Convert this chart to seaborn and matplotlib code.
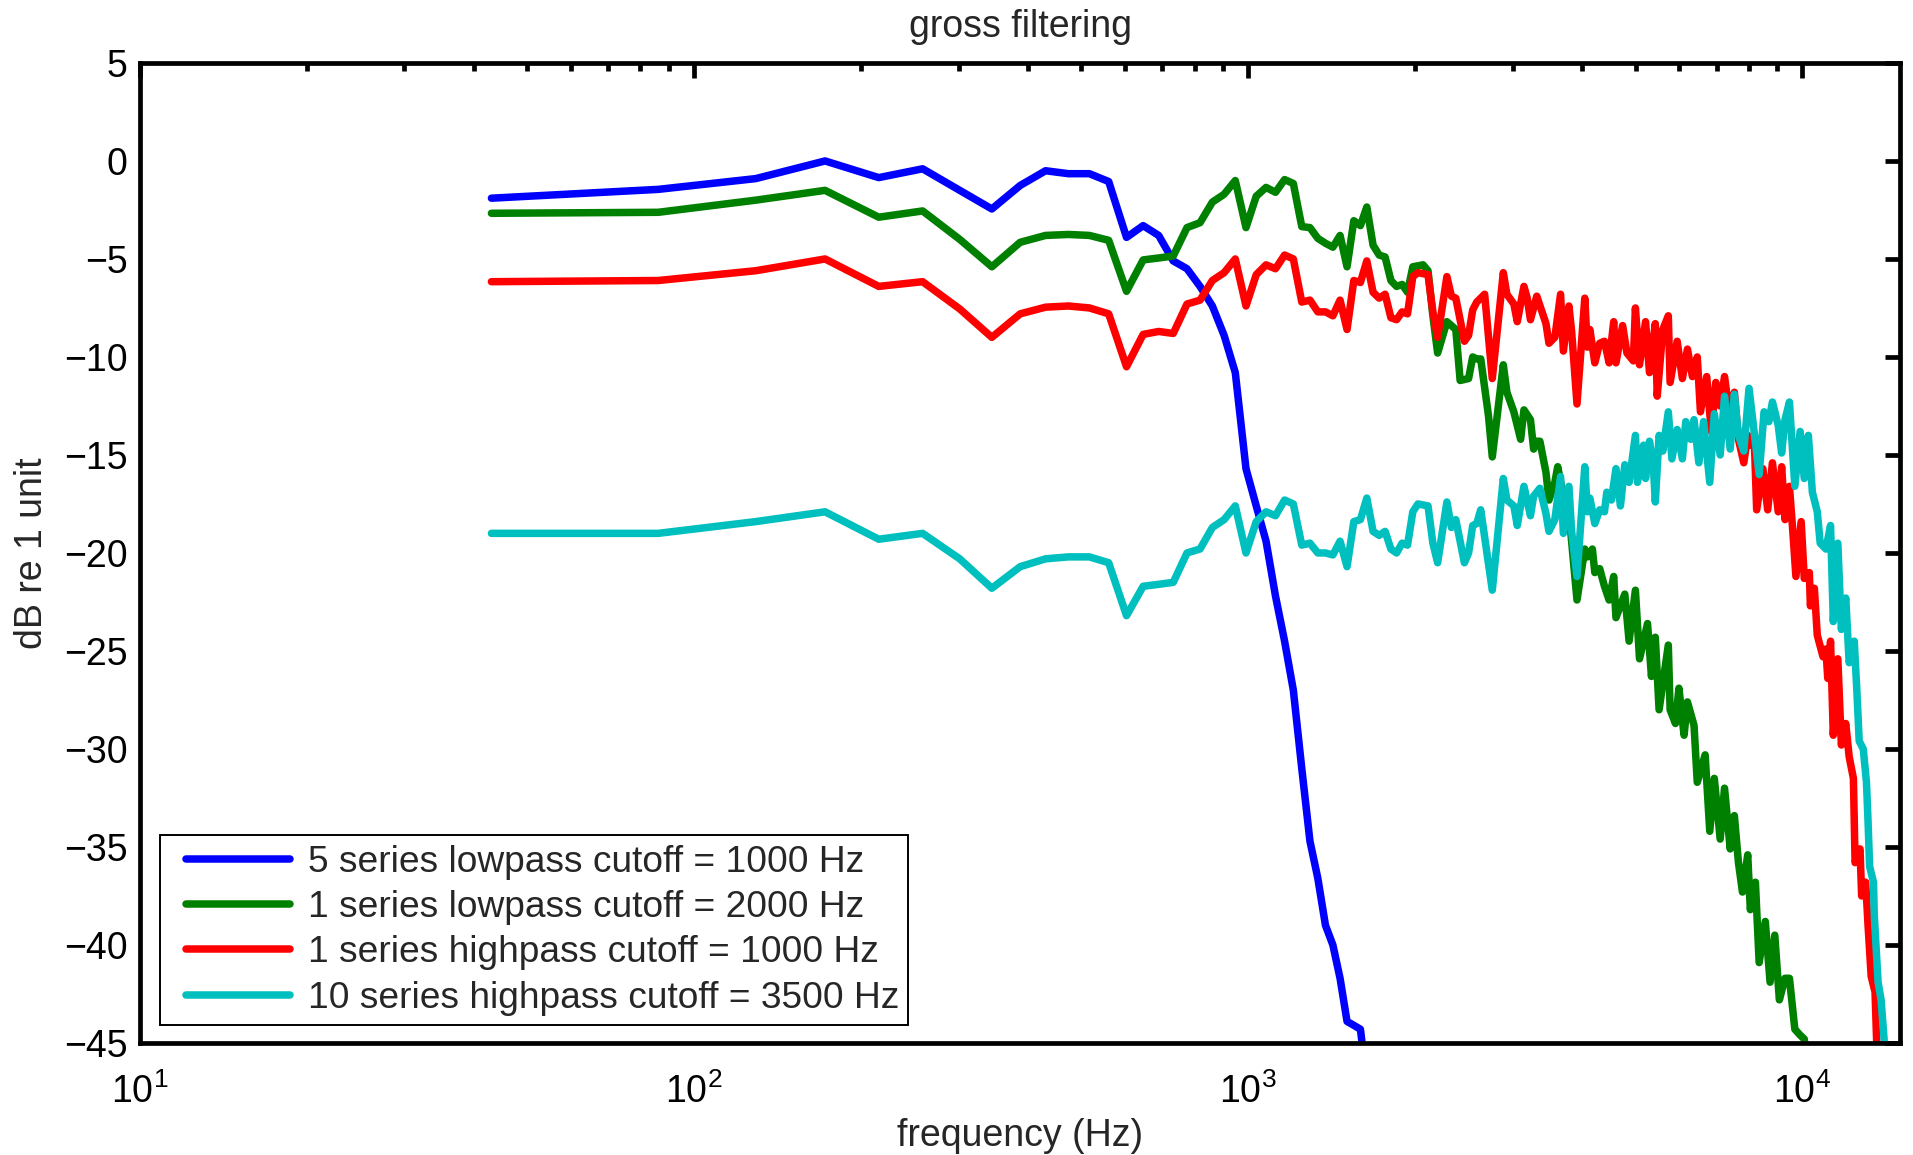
import numpy as np
import pandas as pd
import matplotlib
matplotlib.use("Agg")
import matplotlib.pyplot as plt
from matplotlib.ticker import LogLocator, NullFormatter
from matplotlib.legend_handler import HandlerLine2D
import seaborn as sns

# FFT resolution used for the spectra (44.1 kHz, 1024-point frames)
BIN_HZ = 44100 / 1024

series_labels = [
    "5 series lowpass cutoff = 1000 Hz",
    "1 series lowpass cutoff = 2000 Hz",
    "1 series highpass cutoff = 1000 Hz",
    "10 series highpass cutoff = 3500 Hz",
]
series_colors = ["#0000ff", "#008000", "#ff0000", "#00bfbf"]

# Spectral bin indices and levels (dB re 1 unit) for each filter chain
blue_bins = list(range(1, 39))
blue_db = [-1.9, -1.45, -0.9, 0.0, -0.85, -0.4, -1.5, -2.45, -1.25, -0.5,
           -0.65, -0.65, -1.05, -3.9, -3.3, -3.8, -5.1, -5.5, -6.4, -7.4,
           -8.9, -10.8, -15.7, -17.6, -19.4, -22.2, -24.5, -27.0, -31.0, -34.7,
           -36.6, -39.0, -40.0, -41.7, -43.9, -44.1, -44.3, -47.0]

green_bins = list(range(1, 46)) + [
    46, 48, 49, 50, 51, 53, 54, 55, 56, 58, 59, 60, 61, 63, 64, 67, 68, 70, 72, 73,
    75, 76, 77, 78, 80, 81, 83, 84, 86, 88, 91, 94, 95, 97, 98, 100, 102, 104, 106, 107,
    111, 113, 116, 118, 122, 124, 126, 128, 133, 134, 137, 139, 142, 144, 148, 150, 155, 158, 161, 165,
    168, 172, 175, 178, 181, 185, 187, 191, 194, 199, 203, 207, 211, 216, 220, 225, 230, 234, 238]
green_db = [
    -2.67, -2.62, -2.0, -1.5, -2.87, -2.55, -4.0, -5.4, -4.15, -3.8,
    -3.75, -3.8, -4.05, -6.65, -5.05, -4.95, -4.85, -3.4, -3.15, -2.1,
    -1.7, -1.0, -3.4, -1.8, -1.35, -1.6, -0.95, -1.15, -3.35, -3.4,
    -3.95, -4.2, -4.4, -3.8, -5.4, -3.05, -3.3, -2.35, -4.3, -4.8,
    -4.9, -6.1, -6.4, -6.3, -6.7,
    -5.4, -5.3, -5.6, -7.9, -9.8, -8.2, -8.4, -8.6, -11.2, -11.1,
    -10.0, -10.1, -10.1, -13.0, -15.1, -10.4, -11.8, -12.8, -14.2, -12.7,
    -13.2, -14.7, -14.3, -14.3, -15.9, -17.3, -16.4, -15.6, -17.1, -17.9,
    -22.4, -19.8, -20.2, -19.8, -21.0, -20.8, -21.7, -22.4, -21.2, -23.3,
    -22.1, -24.5, -21.9, -25.4, -23.6, -26.3, -24.3, -28.0, -24.7, -28.0,
    -28.7, -26.9, -29.3, -27.6, -28.8, -31.7, -30.3, -34.2, -31.5, -34.6,
    -32.0, -35.1, -33.4, -35.8, -37.3, -35.4, -38.2, -36.8, -40.9, -38.8,
    -41.9, -39.5, -42.8, -41.7, -41.7, -44.3, -44.6, -44.8, -47.0]

red_bins = list(range(1, 46)) + [
    46, 47, 49, 50, 51, 53, 54, 55, 57, 58, 59, 60, 62, 64, 67, 68, 70, 71, 73, 74,
    75, 77, 80, 81, 83, 85, 86, 88, 89, 91, 94, 95, 96, 98, 100, 102, 104, 106, 107, 110,
    112, 115, 116, 118, 121, 123, 126, 127, 130, 133, 134, 138, 141, 144, 147, 150, 152, 156, 159, 162,
    165, 168, 172, 175, 178, 182, 185, 187, 190, 192, 197, 201, 205, 210, 213, 216, 220, 223, 226, 231,
    234, 239, 240, 244, 247, 253, 256, 258, 261, 264, 269, 273, 278, 282, 287, 289, 295, 297, 302, 305,
    309, 314, 316, 320]
red_db = [
    -6.16, -6.1, -5.6, -5.0, -6.4, -6.16, -7.55, -9.0, -7.8, -7.46,
    -7.4, -7.5, -7.8, -10.5, -8.85, -8.7, -8.8, -7.3, -7.1, -6.1,
    -5.7, -5.0, -7.4, -5.8, -5.3, -5.5, -4.8, -5.0, -7.2, -7.1,
    -7.7, -7.7, -7.9, -7.1, -8.6, -6.1, -6.2, -5.1, -6.7, -7.0,
    -6.8, -8.0, -8.1, -7.7, -7.8,
    -5.9, -5.7, -5.8, -7.7, -9.0, -5.9, -6.9, -7.0, -9.2, -8.9,
    -7.6, -7.2, -6.8, -11.1, -5.7, -6.8, -7.3, -8.2, -6.4, -7.0,
    -8.1, -6.9, -8.3, -9.3, -9.0, -6.8, -9.7, -7.4, -8.7, -12.4,
    -7.0, -9.5, -8.6, -10.3, -9.3, -9.2, -10.3, -8.2, -10.3, -8.4,
    -9.8, -10.2, -7.5, -10.4, -8.2, -10.8, -8.3, -12.0, -8.6, -7.9,
    -11.3, -9.2, -11.1, -9.6, -11.0, -10.0, -12.8, -11.0, -13.8, -11.3,
    -12.5, -11.0, -13.2, -11.8, -14.2, -15.4, -14.0, -14.5, -14.0, -17.8,
    -15.7, -17.8, -15.4, -17.9, -15.6, -18.3, -16.6, -18.8, -21.2, -18.4,
    -21.3, -21.0, -22.7, -21.8, -24.2, -25.3, -24.9, -26.4, -24.5, -29.3,
    -25.4, -29.8, -28.7, -30.4, -31.5, -35.8, -35.1, -37.5, -36.8, -39.0,
    -41.6, -42.4, -44.8, -48.0]

cyan_bins = list(range(1, 46)) + [
    46, 47, 49, 50, 51, 53, 54, 55, 57, 58, 59, 60, 61, 64, 67, 68, 70, 71, 73, 75,
    76, 78, 80, 81, 83, 85, 86, 88, 89, 91, 94, 95, 96, 98, 100, 102, 103, 105, 107, 109,
    111, 113, 116, 117, 120, 121, 123, 125, 126, 128, 130, 133, 135, 138, 141, 143, 146, 148, 151, 154,
    158, 161, 165, 168, 172, 175, 178, 182, 186, 190, 194, 198, 202, 205, 210, 213, 216, 220, 225, 230,
    234, 238, 242, 247, 250, 256, 261, 264, 269, 273, 278, 282, 288, 291, 294, 299, 303, 305, 307, 312,
    313, 318, 322, 326, 330]
cyan_db = [
    -19.0, -19.0, -18.4, -17.9, -19.3, -19.0, -20.3, -21.8, -20.7, -20.3,
    -20.2, -20.2, -20.5, -23.2, -21.7, -21.6, -21.5, -20.0, -19.8, -18.7,
    -18.3, -17.6, -20.0, -18.4, -17.9, -18.1, -17.3, -17.5, -19.6, -19.5,
    -20.0, -20.0, -20.1, -19.4, -20.7, -18.4, -18.3, -17.2, -18.9, -19.1,
    -18.9, -19.8, -20.0, -19.5, -19.6,
    -17.9, -17.5, -17.6, -19.5, -20.5, -17.4, -18.7, -18.3, -20.5, -20.0,
    -18.6, -18.5, -17.8, -21.9, -16.2, -17.3, -17.6, -18.6, -16.6, -18.1,
    -17.1, -16.7, -18.0, -18.9, -18.3, -16.1, -19.0, -16.6, -18.9, -21.2,
    -15.6, -17.9, -17.2, -18.5, -17.8, -17.9, -16.9, -17.3, -15.7, -17.6,
    -15.5, -16.4, -14.0, -16.4, -14.5, -16.2, -14.3, -15.6, -17.4, -14.0,
    -14.8, -12.8, -15.2, -13.7, -15.2, -13.3, -14.2, -13.2, -15.4, -13.3,
    -16.4, -12.9, -15.0, -12.0, -14.7, -11.9, -14.0, -14.8, -11.6, -13.8,
    -16.0, -12.8, -13.3, -12.3, -13.5, -14.9, -13.2, -12.3, -16.6, -13.8,
    -16.2, -14.0, -16.9, -17.9, -19.5, -19.8, -18.6, -23.5, -19.5, -23.9,
    -22.3, -25.6, -24.5, -26.9, -29.6, -30.0, -31.7, -33.7, -36.0, -36.8,
    -38.5, -41.9, -42.8, -44.8, -48.0]

y_ticks = [-45, -40, -35, -30, -25, -20, -15, -10, -5, 0, 5]

FONT_SIZE = 27
LEGEND_FONT_SIZE = 26.7
LINE_WIDTH = 5.4
AXIS_WIDTH = 3.4


class InsetLineHandler(HandlerLine2D):
    """Legend line sample that starts a little in from the frame edge."""

    def __init__(self, inset_px, **kw):
        super().__init__(**kw)
        self.inset_px = inset_px

    def create_artists(self, legend, orig_handle, xdescent, ydescent,
                       width, height, fontsize, trans):
        artists = super().create_artists(legend, orig_handle, xdescent, ydescent,
                                         width, height, fontsize, trans)
        for art in artists:
            xd = np.asarray(art.get_xdata(), dtype=float)
            if xd.size >= 2:
                xd = xd.copy()
                xd[0] += self.inset_px
                art.set_xdata(xd)
        return artists


sns.set_style("white")
plt.rcParams["font.family"] = ["Liberation Sans", "DejaVu Sans"]
plt.rcParams["mathtext.default"] = "regular"

fig = plt.figure(figsize=(19.13, 11.55), dpi=100)
ax = fig.add_axes([0.0732, 0.097, 0.92, 0.8485])

all_series = [
    (blue_bins, blue_db),
    (green_bins, green_db),
    (red_bins, red_db),
    (cyan_bins, cyan_db),
]
for (bins, db), label, color in zip(all_series, series_labels, series_colors):
    df = pd.DataFrame({"frequency": np.asarray(bins) * BIN_HZ, "level": db})
    sns.lineplot(data=df, x="frequency", y="level", ax=ax, color=color,
                 linewidth=LINE_WIDTH, label=label, estimator=None, sort=False)

ax.set_xscale("log")
ax.set_xlim(10, 15000)
ax.set_ylim(-45, 5)
ax.xaxis.set_major_locator(LogLocator(base=10, numticks=10))
ax.xaxis.set_minor_locator(LogLocator(base=10, subs=np.arange(2, 10), numticks=40))
ax.xaxis.set_minor_formatter(NullFormatter())
ax.set_yticks(y_ticks)

ax.tick_params(which="both", direction="in", top=True, right=True,
               width=AXIS_WIDTH, color="black", labelcolor="black")
ax.tick_params(which="major", length=11)
ax.tick_params(which="minor", length=5.5)
ax.tick_params(axis="x", labelsize=FONT_SIZE, pad=22)
ax.tick_params(axis="y", labelsize=FONT_SIZE, pad=9)

for spine in ax.spines.values():
    spine.set_linewidth(AXIS_WIDTH)
    spine.set_color("black")

ax.set_xlabel("frequency (Hz)", fontsize=FONT_SIZE, labelpad=5)
ax.set_ylabel("dB re 1 unit", fontsize=FONT_SIZE, labelpad=10)
ax.set_title("gross filtering", fontsize=FONT_SIZE, pad=19)

handles, labels = ax.get_legend_handles_labels()
leg = ax.legend(handles, labels, loc="lower left",
                bbox_to_anchor=(0.0114, 0.0184), borderaxespad=0,
                frameon=True, fancybox=False, edgecolor="black", framealpha=1,
                fontsize=LEGEND_FONT_SIZE, handlelength=3.26, handletextpad=0.47,
                labelspacing=0.28, borderpad=0.25,
                handler_map={h: InsetLineHandler(12) for h in handles})
leg.get_frame().set_linewidth(1.4)

fig.savefig("out.png", dpi=100, facecolor="white")
